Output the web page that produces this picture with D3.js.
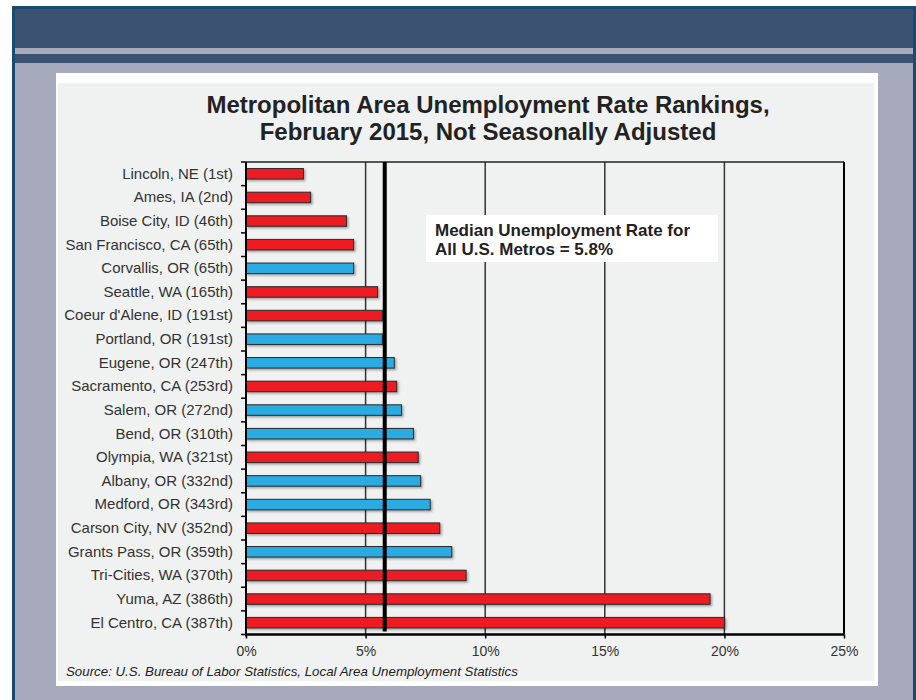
<!DOCTYPE html>
<html><head><meta charset="utf-8">
<script src="https://cdn.jsdelivr.net/npm/d3@7"></script>
<style>html,body{margin:0;padding:0;background:#fff;}svg{display:block;}</style>
</head><body>
<script>
const categories = ["Lincoln, NE (1st)","Ames, IA (2nd)","Boise City, ID (46th)","San Francisco, CA (65th)","Corvallis, OR (65th)","Seattle, WA (165th)","Coeur d'Alene, ID (191st)","Portland, OR (191st)","Eugene, OR (247th)","Sacramento, CA (253rd)","Salem, OR (272nd)","Bend, OR (310th)","Olympia, WA (321st)","Albany, OR (332nd)","Medford, OR (343rd)","Carson City, NV (352nd)","Grants Pass, OR (359th)","Tri-Cities, WA (370th)","Yuma, AZ (386th)","El Centro, CA (387th)"];
const rates = [2.4,2.7,4.2,4.5,4.5,5.5,5.7,5.7,6.2,6.3,6.5,7.0,7.2,7.3,7.7,8.1,8.6,9.2,19.4,20.0];
const isOregon = [false,false,false,false,true,false,false,true,true,false,true,true,false,true,true,false,true,false,false,false];
const xTicks = [0,5,10,15,20,25];
const median = 5.8;
const titleLines = ["Metropolitan Area Unemployment Rate Rankings,","February 2015, Not Seasonally Adjusted"];
const noteLines = ["Median Unemployment Rate for","All U.S. Metros = 5.8%"];
const source = "Source: U.S. Bureau of Labor Statistics, Local Area Unemployment Statistics";

(function(){
const W = 916, H = 700;
const svg = d3.select("body").append("svg").attr("width", W).attr("height", H);
const defs = svg.append("defs");
const f = defs.append("filter").attr("id","sh").attr("x","-5%").attr("y","-50%").attr("width","115%").attr("height","250%");
f.append("feDropShadow").attr("dx",1.5).attr("dy",1.5).attr("stdDeviation",1).attr("flood-color","#000").attr("flood-opacity",0.35);

svg.append("rect").attr("x",12).attr("y",6).attr("width",904).attr("height",700).attr("fill","#1b4a70");
svg.append("rect").attr("x",15).attr("y",9).attr("width",898).attr("height",700).attr("fill","#a7a9bd");
svg.append("rect").attr("x",15).attr("y",9).attr("width",898).attr("height",39).attr("fill","#3c5273");
svg.append("rect").attr("x",15).attr("y",54).attr("width",898).attr("height",9).attr("fill","#3c5273");
svg.append("rect").attr("x",56).attr("y",73).attr("width",822).attr("height",613).attr("fill","#ffffff");
svg.append("rect").attr("x",58).attr("y",83).attr("width",816).attr("height",598).attr("fill","#f0f1f1");

const font = "'Liberation Sans', Arial, sans-serif";
svg.append("g").selectAll("text").data(titleLines).join("text")
  .attr("x",488).attr("y",(d,i)=>113+i*27).attr("text-anchor","middle")
  .attr("font-family",font).attr("font-weight","bold").attr("font-size",24).attr("fill","#222").text(d=>d);

const pL = 246, pR = 844, pT = 162, pB = 634.5;
const x = d3.scaleLinear().domain([0,25]).range([pL,pR]);
const y = d3.scaleBand().domain(categories).range([pT,pB]).paddingInner(0.555).paddingOuter(0.2775);

const g = svg.append("g");
g.selectAll("line.grid").data(xTicks.filter(t=>t>0&&t<25)).join("line").attr("class","grid")
  .attr("x1",d=>x(d)).attr("x2",d=>x(d)).attr("y1",pT).attr("y2",pB)
  .attr("stroke","#333").attr("stroke-width",1.5);
g.append("line").attr("x1",pL).attr("x2",pR).attr("y1",pT).attr("y2",pT).attr("stroke","#222").attr("stroke-width",1.5);
g.append("line").attr("x1",pR).attr("x2",pR).attr("y1",pT).attr("y2",pB).attr("stroke","#000").attr("stroke-width",2);

g.selectAll("rect.bar").data(categories).join("rect").attr("class","bar")
  .attr("x",x(0)).attr("y",d=>y(d)).attr("width",(d,i)=>x(rates[i])-x(0)).attr("height",y.bandwidth())
  .attr("fill",(d,i)=>isOregon[i]?"#29abe2":"#ed1c24").attr("stroke","#2a2a2a").attr("stroke-width",1)
  .attr("filter","url(#sh)");

g.append("line").attr("x1",x(median)).attr("x2",x(median)).attr("y1",pT).attr("y2",pB-3)
  .attr("stroke","#000").attr("stroke-width",4);

svg.append("rect").attr("x",426).attr("y",215).attr("width",292).attr("height",47).attr("fill","#fff");
svg.append("g").selectAll("text").data(noteLines).join("text")
  .attr("x",435).attr("y",(d,i)=>236+i*19)
  .attr("font-family",font).attr("font-weight","bold").attr("font-size",17).attr("fill","#222").text(d=>d);

const yAxis = d3.axisLeft(y).tickSize(0).tickPadding(13);
const ya = svg.append("g").attr("transform",`translate(${pL},0)`).call(yAxis);
ya.select(".domain").remove();
ya.selectAll("text").attr("font-family",font).attr("font-size",15).attr("fill","#333");
const bounds = d3.range(categories.length+1).map(i=>pT + i*y.step());
svg.append("g").selectAll("line").data(bounds).join("line")
  .attr("x1",pL-5).attr("x2",pL).attr("y1",d=>d).attr("y2",d=>d).attr("stroke","#000").attr("stroke-width",1.5);
svg.append("line").attr("x1",pL).attr("x2",pL).attr("y1",pT).attr("y2",pB+2).attr("stroke","#000").attr("stroke-width",2);

const xAxis = d3.axisBottom(x).tickValues(xTicks).tickFormat(d=>d+"%").tickSize(4).tickPadding(8);
const xa = svg.append("g").attr("transform",`translate(0,${pB})`).call(xAxis);
xa.select(".domain").attr("stroke","#000").attr("stroke-width",2.5).attr("d",`M${pL},0H${pR}`);
xa.selectAll(".tick line").attr("stroke","#000").attr("stroke-width",1.5);
xa.selectAll("text").attr("font-family",font).attr("font-size",14).attr("fill","#333");

svg.append("text").attr("x",66).attr("y",676).attr("font-family",font).attr("font-style","italic")
  .attr("font-size",13.3).attr("fill","#222").text(source);
})();
</script>
</body></html>
